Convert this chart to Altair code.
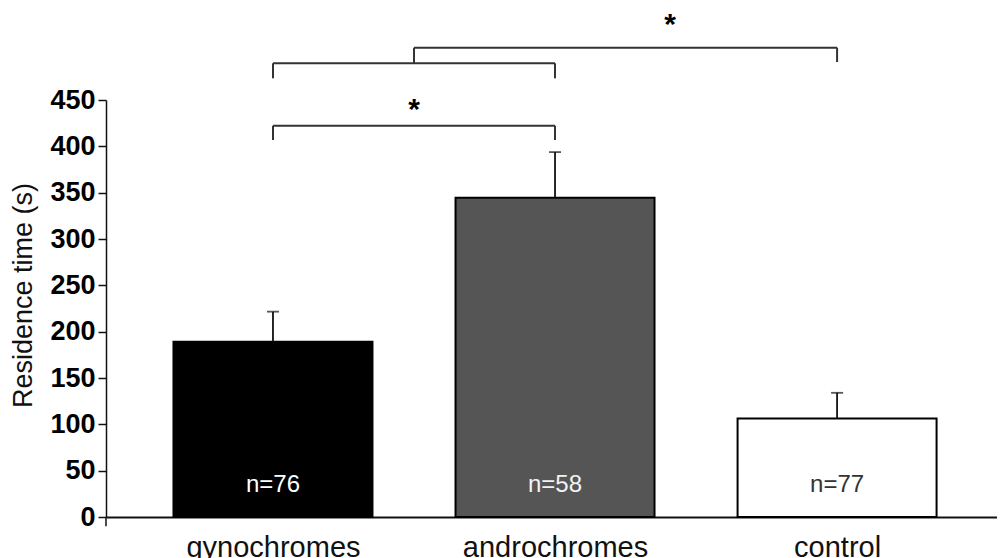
import altair as alt
import pandas as pd

categories = ["gynochromes", "androchromes", "control"]
means = [189, 344.5, 106.3]
errors_top = [221.6, 393.8, 134]
n_labels = ["n=76", "n=58", "n=77"]
bar_colors = ["#000000", "#555555", "#ffffff"]
n_colors = ["#ffffff", "#f2f2f2", "#333333"]

# significance brackets: (x_start, x_end, y_line, y_left_end, y_right_end)
bracket_x1 = [0, 0, 0.5]
bracket_x2 = [1, 1, 2]
bracket_y = [422.2, 489.6, 506.5]
bracket_left_end = [406.8, 473.4, 489.6]
bracket_right_end = [406.8, 473.4, 491]
star_x = [0.5, 1.408]
star_y = [429.4, 521]

idx = list(range(len(categories)))
bars = pd.DataFrame({
    "pos": idx, "cat": categories, "mean": means, "err": errors_top,
    "n": n_labels, "fill": bar_colors, "ncol": n_colors,
})

segs = []
for a, b, yl, ya, yb in zip(bracket_x1, bracket_x2, bracket_y, bracket_left_end, bracket_right_end):
    segs.append({"x": a, "x2": a, "y": ya, "y2": yl})
    segs.append({"x": a, "x2": b, "y": yl, "y2": yl})
    segs.append({"x": b, "x2": b, "y": yb, "y2": yl})
segdf = pd.DataFrame(segs)
stars = pd.DataFrame({"x": star_x, "y": star_y, "t": ["*"] * len(star_x)})

FONT = "Liberation Sans"
label_expr = "[" + ",".join(f"'{c}'" for c in categories) + "][datum.value]"

xscale = alt.Scale(domain=[-0.592, 2.567], nice=False, zero=False, padding=0)
yscale = alt.Scale(domain=[0, 450], nice=False)

x_axis = alt.Axis(values=idx, labelExpr=label_expr, ticks=False, grid=False,
                  title=None, labelFontSize=29, labelFont=FONT, labelColor="#111",
                  labelPadding=16, labelLimit=0, domainColor="#111", domainWidth=2)
y_axis = alt.Axis(values=list(range(0, 451, 50)), grid=False, title="Residence time (s)",
                  labelFontSize=27, labelFontWeight="bold", labelFont=FONT, labelColor="#000",
                  tickSize=8, tickColor="#111", tickWidth=1.5, domainColor="#111", domainWidth=1.5,
                  labelPadding=3, titleFont=FONT, titleFontSize=27, titleFontWeight="normal",
                  titleColor="#111", titleAngle=-90, titleX=-83, titleY=195,
                  titleAlign="center", titleBaseline="middle")

base = alt.Chart(bars)

bar_layer = base.mark_bar(size=199, stroke="#000", strokeWidth=2).encode(
    x=alt.X("pos:Q", scale=xscale, axis=x_axis),
    y=alt.Y("mean:Q", scale=yscale, axis=y_axis),
    fill=alt.Fill("fill:N", scale=None),
)

err_line = base.mark_rule(color="#111", strokeWidth=1.8).encode(
    x=alt.X("pos:Q", scale=xscale), y=alt.Y("mean:Q", scale=yscale), y2="err:Q")
err_cap = base.mark_tick(color="#111", orient="horizontal", size=12, thickness=1.8).encode(
    x=alt.X("pos:Q", scale=xscale), y=alt.Y("err:Q", scale=yscale))

n_text = base.mark_text(fontSize=24, font=FONT, baseline="middle", align="center").encode(
    x=alt.X("pos:Q", scale=xscale), y=alt.datum(35), text="n:N",
    color=alt.Color("ncol:N", scale=None))

bracket_layer = alt.Chart(segdf).mark_rule(color="#333", strokeWidth=2, clip=False).encode(
    x=alt.X("x:Q", scale=xscale), x2="x2:Q", y=alt.Y("y:Q", scale=yscale), y2="y2:Q")

star_layer = alt.Chart(stars).mark_text(fontSize=30, fontWeight="bold", font=FONT,
                                        baseline="alphabetic", align="center", color="#000").encode(
    x=alt.X("x:Q", scale=xscale), y=alt.Y("y:Q", scale=yscale), text="t:N")

yext = alt.Chart(pd.DataFrame({"a": [0], "b": [-10]})).mark_rule(color="#111", strokeWidth=1.5).encode(
    x=alt.value(0), y=alt.Y("a:Q", scale=yscale), y2="b:Q")

chart = alt.layer(bar_layer, err_line, err_cap, n_text, bracket_layer, star_layer, yext).properties(
    width=891, height=417,
    autosize=alt.AutoSizeParams(type="none"),
    padding={"left": 98, "top": 92, "right": 0, "bottom": 41},
    background="white",
).configure_view(stroke=None)

chart.save("out.html", embed_options={"renderer": "svg", "actions": False})
